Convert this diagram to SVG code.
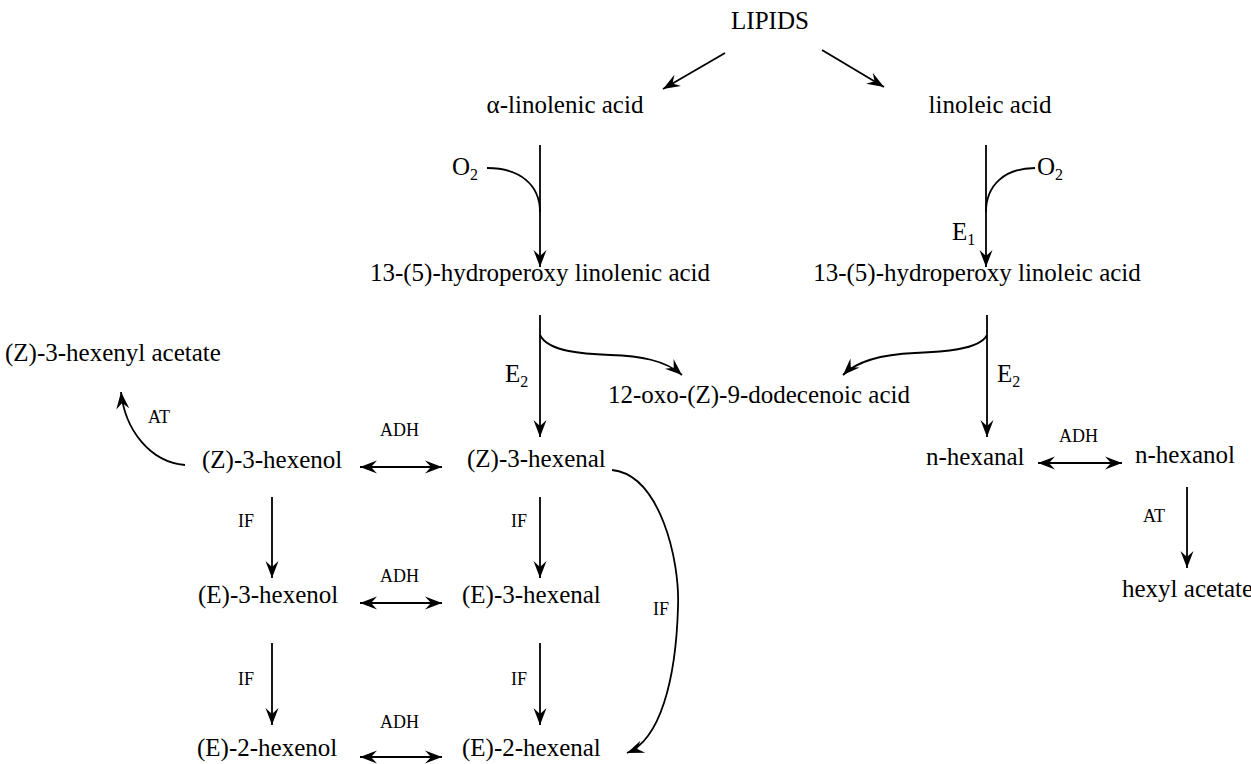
<svg xmlns="http://www.w3.org/2000/svg" width="1251" height="764" viewBox="0 0 1251 764">
<style>
text{font-family:"Liberation Serif","Times New Roman",serif;fill:#000}
.n{font-size:25px}
.s{font-size:18px}
.sub{font-size:16px}
.c{fill:none;stroke:#000;stroke-width:1.8}
.a{marker-end:url(#ah)}
.d{marker-start:url(#ah);marker-end:url(#ah)}
</style>
<defs>
<marker id="ah" viewBox="-18 -8 19 16" refX="0" refY="0" markerWidth="19" markerHeight="16" markerUnits="userSpaceOnUse" orient="auto-start-reverse">
<path d="M0,0 L-17,-6.5 L-11,0 L-17,6.5 Z" fill="#000"/>
</marker>
</defs>
<rect width="1251" height="764" fill="#fff"/>
<g id="connectors">
<path class="c a" d="M725,53 L663,89"/>
<path class="c a" d="M822,50 L884,87"/>
<path class="c a" d="M540,145 L540,267"/>
<path class="c" d="M487,168 C520,168 540,185 540,212"/>
<path class="c a" d="M986,145 L986,267"/>
<path class="c" d="M1035,168 C1005,168 986,185 986,212"/>
<path class="c a" d="M540,315 L540,437"/>
<path class="c a" d="M540,335 C548,352 585,354 610,355 C640,356 665,360 682,375"/>
<path class="c a" d="M987,315 L987,437"/>
<path class="c a" d="M987,335 C980,350 940,352 915,353 C890,354 860,358 843,375"/>
<path class="c a" d="M185,465 C150,462 125,430 121,392"/>
<path class="c d" d="M360,467 L442,467"/>
<path class="c d" d="M360,603 L442,603"/>
<path class="c d" d="M360,757 L442,757"/>
<path class="c d" d="M1038,463 L1122,463"/>
<path class="c a" d="M272,497 L272,578"/>
<path class="c a" d="M540,497 L540,578"/>
<path class="c a" d="M272,643 L272,725"/>
<path class="c a" d="M540,643 L540,725"/>
<path class="c a" d="M1187,487 L1187,568"/>
<path class="c a" d="M612,470 C660,475 680,560 678,607 C676,680 660,740 627,753"/>
<g id="edge-labels">
<text class="n" x="452" y="175">O<tspan class="sub" dy="5">2</tspan></text>
<text class="n" x="1037" y="175">O<tspan class="sub" dy="5">2</tspan></text>
<text class="n" x="952" y="240">E<tspan class="sub" dy="5">1</tspan></text>
<text class="n" x="505" y="382">E<tspan class="sub" dy="5">2</tspan></text>
<text class="n" x="997" y="382">E<tspan class="sub" dy="5">2</tspan></text>
<text class="s" x="148" y="423">AT</text>
<text class="s" x="380" y="436">ADH</text>
<text class="s" x="1059" y="442">ADH</text>
<text class="s" x="1143" y="522">AT</text>
<text class="s" x="238" y="527">IF</text>
<text class="s" x="511" y="527">IF</text>
<text class="s" x="380" y="582">ADH</text>
<text class="s" x="653" y="615">IF</text>
<text class="s" x="238" y="685">IF</text>
<text class="s" x="511" y="685">IF</text>
<text class="s" x="380" y="728">ADH</text>
</g>
</g>
<g id="lipids"><text class="n" x="770" y="29" text-anchor="middle">LIPIDS</text></g>
<g id="alpha-linolenic"><text class="n" x="565" y="113" text-anchor="middle">α-linolenic acid</text></g>
<g id="linoleic"><text class="n" x="990" y="113" text-anchor="middle">linoleic acid</text></g>
<g id="hp-linolenic"><text class="n" x="540" y="281" text-anchor="middle">13-(5)-hydroperoxy linolenic acid</text></g>
<g id="hp-linoleic"><text class="n" x="977" y="281" text-anchor="middle">13-(5)-hydroperoxy linoleic acid</text></g>
<g id="oxo-acid"><text class="n" x="608" y="403">12-oxo-(Z)-9-dodecenoic acid</text></g>
<g id="z3-hexenyl-acetate"><text class="n" x="5" y="361">(Z)-3-hexenyl acetate</text></g>
<g id="z3-hexenol"><text class="n" x="202" y="468">(Z)-3-hexenol</text></g>
<g id="z3-hexenal"><text class="n" x="467" y="467">(Z)-3-hexenal</text></g>
<g id="n-hexanal"><text class="n" x="926" y="465">n-hexanal</text></g>
<g id="n-hexanol"><text class="n" x="1135" y="463">n-hexanol</text></g>
<g id="hexyl-acetate"><text class="n" x="1122" y="597">hexyl acetate</text></g>
<g id="e3-hexenol"><text class="n" x="198" y="603">(E)-3-hexenol</text></g>
<g id="e3-hexenal"><text class="n" x="462" y="603">(E)-3-hexenal</text></g>
<g id="e2-hexenol"><text class="n" x="197" y="756">(E)-2-hexenol</text></g>
<g id="e2-hexenal"><text class="n" x="462" y="756">(E)-2-hexenal</text></g>
</svg>
